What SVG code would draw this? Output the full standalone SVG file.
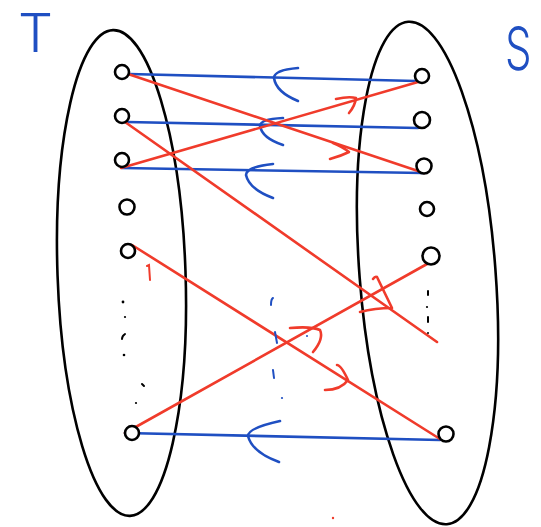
<svg xmlns="http://www.w3.org/2000/svg" width="541" height="527" viewBox="0 0 541 527">
<style>
.set{fill:none;stroke:#000;stroke-width:2.6}
.node{fill:#fff;stroke:#000;stroke-width:2.6}
.blue{fill:none;stroke:#1f4fc2;stroke-width:2.6;stroke-linecap:round;stroke-linejoin:round}
.red{fill:none;stroke:#f03b2b;stroke-width:2.6;stroke-linecap:round;stroke-linejoin:round}
.mk{fill:none;stroke-width:2;stroke-linecap:round}
.lbl{fill:#1f4fc2;font-family:Inter,Lato,"Liberation Sans",sans-serif;font-weight:300}
</style>
<rect width="541" height="527" fill="#fff"/>
<g id="set-T">
<ellipse class="set" cx="121.5" cy="273" rx="64" ry="243" transform="rotate(-2 121.5 273)"/>
<text class="lbl" x="18" y="52" font-size="53" textLength="35" lengthAdjust="spacingAndGlyphs">T</text>
</g>
<g id="set-S">
<ellipse class="set" cx="427.5" cy="273" rx="68" ry="252" transform="rotate(-4.4 427.5 273)"/>
<text class="lbl" transform="translate(505 70) scale(0.7 1)" x="0" y="0" font-size="60">S</text>
</g>
<g id="connectors">
<g id="e-b1"><path class="blue" d="M129,74 L416,81"/><path class="blue" d="M298,68 Q274,70 274,78 Q276,92 298,101"/></g>
<g id="e-b2"><path class="blue" d="M127,122 L418,128"/><path class="blue" d="M283,118 Q260,119 260,126 Q262,138 283,145"/></g>
<g id="e-b3"><path class="blue" d="M122,168 L423,173"/><path class="blue" d="M273,164 Q246,167 246,175 Q249,189 273,198"/></g>
<g id="e-b4"><path class="blue" d="M125,433 L440,440"/><path class="blue" d="M280,421 Q248,428 248,436 Q252,452 279,462"/></g>
<g id="e-rA"><path class="red" d="M128,74 L424,173"/><path class="red" d="M333,143 Q343,147 349,152 Q341,156 330,159"/></g>
<g id="e-rB"><path class="red" d="M121,168 L418,82"/><path class="red" d="M336,99 Q349,96 356,98 Q355,106 349,113"/></g>
<g id="e-rC"><path class="red" d="M125,122 L437,342"/><path class="red" d="M373,279 Q375,276 377,277 L392,308 Q375,308 360,312"/></g>
<g id="e-rD"><path class="red" d="M132,245 L440,439"/><path class="red" d="M337,365 Q341,365 348,380 Q341,390 325,390"/></g>
<g id="e-rE"><path class="red" d="M427,264 L125,433"/><path class="red" d="M290,328 Q311,326 320,330 Q324,339 313,352"/></g>
</g>
<g id="marks">
<path class="mk" stroke="#f03b2b" d="M147,266 L149,265 L150,280"/>
<circle cx="333" cy="518" r="1.2" fill="#f03b2b"/>
<path class="mk" stroke="#1f4fc2" d="M271,305 Q271,299 273,298"/>
<path class="mk" stroke="#1f4fc2" d="M275,332 L277,343"/>
<path class="mk" stroke="#1f4fc2" d="M273,370 L274,378"/>
<circle cx="282" cy="398" r="1.1" fill="#1f4fc2"/>
<circle cx="307" cy="336" r="1" fill="#1f4fc2"/>
<circle cx="123" cy="302" r="1.4" fill="#000"/>
<circle cx="125" cy="317" r="1.1" fill="#000"/>
<path class="mk" stroke="#000" d="M125,334 Q122,336 122,339"/>
<circle cx="124" cy="355" r="1.3" fill="#000"/>
<path class="mk" stroke="#000" d="M142,384 L144,386"/>
<circle cx="136" cy="403" r="1.1" fill="#000"/>
<path class="mk" stroke="#000" d="M428,291 L428,295"/>
<circle cx="427" cy="307" r="1.1" fill="#000"/>
<path class="mk" stroke="#000" d="M428,317 L428,322"/>
<circle cx="428" cy="333" r="1" fill="#000"/>
</g>
<g id="n-L1"><circle class="node" cx="122" cy="72" r="7"/></g>
<g id="n-L2"><circle class="node" cx="122" cy="116" r="7"/></g>
<g id="n-L3"><circle class="node" cx="122" cy="160" r="7"/></g>
<g id="n-L4"><circle class="node" cx="127" cy="207" r="7.5"/></g>
<g id="n-L5"><circle class="node" cx="128" cy="251" r="7"/></g>
<g id="n-L6"><circle class="node" cx="132" cy="433" r="7"/></g>
<g id="n-R1"><circle class="node" cx="422" cy="76" r="7"/></g>
<g id="n-R2"><circle class="node" cx="422" cy="120" r="8"/></g>
<g id="n-R3"><circle class="node" cx="424" cy="166" r="7.5"/></g>
<g id="n-R4"><circle class="node" cx="427" cy="209" r="7"/></g>
<g id="n-R5"><circle class="node" cx="431" cy="256" r="8.5"/></g>
<g id="n-R6"><circle class="node" cx="446" cy="434" r="7.5"/></g>
</svg>
